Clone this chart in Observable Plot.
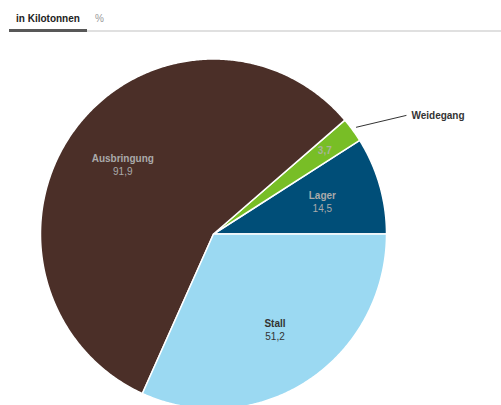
<!DOCTYPE html>
<html>
<head>
<meta charset="utf-8">
<script src="https://cdn.jsdelivr.net/npm/d3@7"></script>
<script src="https://cdn.jsdelivr.net/npm/@observablehq/plot@0.6"></script>
<style>
  body { margin: 0; background: #fff; font-family: "Liberation Sans", Arial, Helvetica, sans-serif; overflow: hidden; }
  #tabs { position: relative; height: 35px; width: 501px; }
  #tabs span { position: absolute; top: 13.5px; font-size: 10px; line-height: 10px; white-space: nowrap; }
  #tabs .bar { position: absolute; }
</style>
</head>
<body>
<div id="tabs">
  <span style="left:16px;font-weight:bold;color:#222">in Kilotonnen</span>
  <span style="left:95px;color:#999">%</span>
  <div class="bar" style="left:87px;top:30px;width:414px;height:2px;background:#e0e0e0"></div>
  <div class="bar" style="left:9px;top:29px;width:78px;height:3px;background:#585858"></div>
</div>
<div id="chart"></div>
<script>
const categories = ["Lager", "Weidegang", "Ausbringung", "Stall"];
const values = [14.5, 3.7, 91.9, 51.2];
const palette = ["#004e78", "#78be26", "#4b2f28", "#9bd9f2"];
const darkSlice = [true, false, true, false];

const total = d3.sum(values);
const fmt = v => String(v).replace(".", ",");
const polar = (deg, r) => ({x: r * Math.cos(deg * Math.PI / 180), y: r * Math.sin(deg * Math.PI / 180)});

// slice geometry (angles in degrees, counterclockwise from 3 o'clock)
let acc = 0;
const slices = categories.map((name, i) => {
  const a0 = acc;
  const a1 = acc + values[i] / total * 360;
  acc = a1;
  const pts = [{x: 0, y: 0}];
  const n = Math.max(2, Math.ceil((a1 - a0) / 0.5));
  for (let k = 0; k <= n; k++) pts.push(polar(a0 + (a1 - a0) * k / n, 1));
  pts.push({x: 0, y: 0});
  const mid = (a0 + a1) / 2;
  const share = values[i] / total;
  const lp = polar(mid, share < 0.05 ? 0.8 : 0.655);
  return {name, value: values[i], i, a0, a1, mid, share, pts, lx: lp.x, ly: lp.y};
});

const big = slices.filter(s => s.share >= 0.05);
const small = slices.filter(s => s.share < 0.05);
const connectors = small.map(s => {
  const p0 = polar(s.mid, 1.025), p1 = polar(s.mid - 5.2, 1.305);
  return {name: s.name, x1: p0.x, y1: p0.y, x2: p1.x, y2: p1.y};
});

const font = "Liberation Sans, Arial, Helvetica, sans-serif";
const labelColor = s => darkSlice[s.i] ? "#aaaaaa" : "#333333";

const chart = Plot.plot({
  width: 501,
  height: 370,
  margin: 0,
  style: {fontFamily: font, overflow: "visible", background: "transparent"},
  x: {domain: [-1, 1], range: [40, 386], axis: null},
  y: {domain: [-1, 1], range: [373.5, 23.5], axis: null},
  marks: [
    ...slices.map(s => Plot.line(s.pts, {x: "x", y: "y", fill: palette[s.i], stroke: "#ffffff", strokeWidth: 1.5, strokeLinejoin: "round"})),
    Plot.text(big, {x: "lx", y: "ly", text: "name", dy: -6.5, fontSize: 10, fontWeight: "bold", fill: labelColor}),
    Plot.text(big, {x: "lx", y: "ly", text: d => fmt(d.value), dy: 6.5, fontSize: 10, fill: labelColor}),
    Plot.text(small, {x: "lx", y: "ly", text: d => fmt(d.value), fontSize: 10, fontWeight: "bold", fill: "#a8b49a"}),
    Plot.link(connectors, {x1: "x1", y1: "y1", x2: "x2", y2: "y2", stroke: "#333", strokeWidth: 1}),
    Plot.text(connectors, {x: "x2", y: "y2", text: "name", dx: 5, textAnchor: "start", fontSize: 10, fontWeight: "bold", fill: "#333"})
  ]
});
document.getElementById("chart").appendChild(chart);
</script>
</body>
</html>
